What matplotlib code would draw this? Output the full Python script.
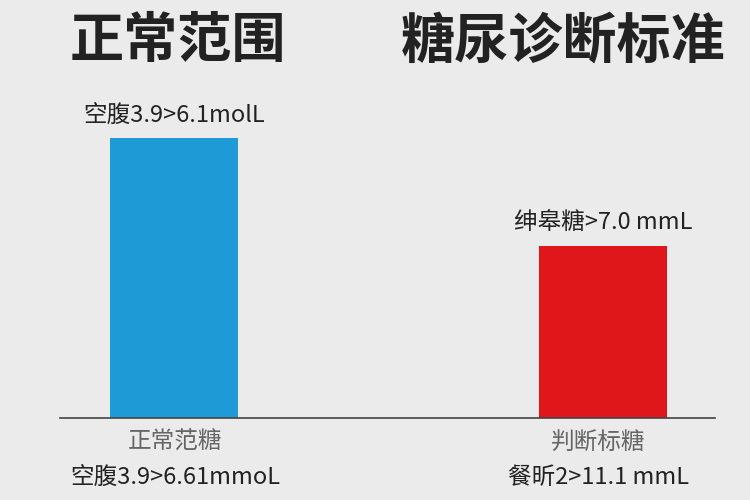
import matplotlib
matplotlib.use("Agg")
import matplotlib.pyplot as plt

plt.rcParams['font.family'] = ['Noto Sans CJK SC', 'DejaVu Sans']

categories = ["正常范糖", "判断标糖"]
values = [6.1, 3.75]
colors = ["#1e9ad6", "#e0171a"]
top_labels = ["空腹3.9>6.1molL", "绅皋糖>7.0 mmL"]
bottom_labels = ["空腹3.9>6.61mmoL", "餐昕2>11.1 mmL"]
titles = ["正常范围", "糖尿诊断标准"]

fig = plt.figure(figsize=(7.5, 5), dpi=100, facecolor="#ebebeb")
ax = fig.add_axes([0, 0, 1, 1])
ax.set_facecolor("#ebebeb")
pxu_x = 429.0
pxu_y = 280.0 / 6.1
ax.set_xlim(-174 / pxu_x, (750 - 174) / pxu_x)
ax.set_ylim(-82 / pxu_y, 418 / pxu_y)
ax.axis("off")

ax.bar([0, 1], values, width=128 / pxu_x, color=colors)
ax.plot([-114 / pxu_x, 541 / pxu_x], [0, 0], color="#444444", lw=1.2)

for i, (v, t) in enumerate(zip(values, top_labels)):
    ax.text(i, v + 0.25, t, ha="center", va="bottom", fontsize=17, color="#222222")

fig.text(175 / 750, 1 - 442 / 500, categories[0], ha="center", va="center", fontsize=17, color="#666666")
fig.text(598 / 750, 1 - 442 / 500, categories[1], ha="center", va="center", fontsize=17, color="#666666")
fig.text(175 / 750, 1 - 477 / 500, bottom_labels[0], ha="center", va="center", fontsize=17, color="#222222")
fig.text(598 / 750, 1 - 477 / 500, bottom_labels[1], ha="center", va="center", fontsize=17, color="#222222")

fig.text(178 / 750, 1 - 42 / 500, titles[0], ha="center", va="center", fontsize=39, fontweight="bold", color="#222222")
fig.text(563 / 750, 1 - 42 / 500, titles[1], ha="center", va="center", fontsize=39, fontweight="bold", color="#222222")

fig.savefig("out.png", dpi=100, facecolor=fig.get_facecolor())
